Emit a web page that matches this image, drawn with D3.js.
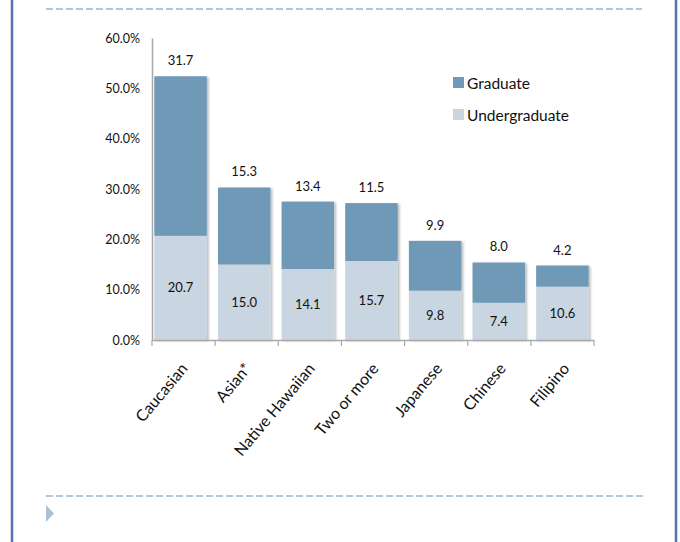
<!DOCTYPE html>
<html>
<head>
<meta charset="utf-8">
<script src="https://cdn.jsdelivr.net/npm/d3@7"></script>
<style>
  html, body { margin: 0; padding: 0; background: #fff; }
  svg { display: block; }
  text { font-family: Lato, "Open Sans", sans-serif; fill: #111; }
</style>
</head>
<body>
<svg id="chart" width="680" height="542"></svg>
<script>
// Enrollment share by ethnicity, split into undergraduate and graduate
const categories = ["Caucasian", "Asian*", "Native Hawaiian", "Two or more", "Japanese", "Chinese", "Filipino"];
const undergraduate = [20.7, 15.0, 14.1, 15.7, 9.8, 7.4, 10.6];
const graduate = [31.7, 15.3, 13.4, 11.5, 9.9, 8.0, 4.2];
const yTicks = [0, 10, 20, 30, 40, 50, 60];
const seriesNames = ["Graduate", "Undergraduate"];

const colors = { Graduate: "#7098b7", Undergraduate: "#c9d6e1" };

const svg = d3.select("#chart");
const W = 680, H = 542;

// slide frame: left and right rules, dashed separators, bullet arrow
svg.append("line").attr("x1", 12).attr("x2", 12).attr("y1", 0).attr("y2", H)
  .attr("stroke", "#4f76a8").attr("stroke-width", 2.5);
svg.append("line").attr("x1", 676).attr("x2", 676).attr("y1", 0).attr("y2", H)
  .attr("stroke", "#4f76a8").attr("stroke-width", 2.5);
svg.append("line").attr("x1", 46).attr("x2", 642).attr("y1", 9).attr("y2", 9)
  .attr("stroke", "#b3c7d9").attr("stroke-width", 2).attr("stroke-dasharray", "7,3");
svg.append("line").attr("x1", 46).attr("x2", 645).attr("y1", 496).attr("y2", 496)
  .attr("stroke", "#b3c7d9").attr("stroke-width", 2).attr("stroke-dasharray", "7,3");
svg.append("path").attr("d", "M46,505 L54,513.5 L46,522 Z").attr("fill", "#aac2d8");

// soft shadow on the bars
const defs = svg.append("defs");
const f = defs.append("filter").attr("id", "shadow").attr("x", "-10%").attr("y", "-10%")
  .attr("width", "130%").attr("height", "130%");
f.append("feDropShadow").attr("dx", 2).attr("dy", 1).attr("stdDeviation", 1)
  .attr("flood-color", "#000").attr("flood-opacity", 0.25);

const x = d3.scaleBand().domain(categories).range([152, 594])
  .paddingInner(0.175).paddingOuter(0.06).align(0.3);
const y = d3.scaleLinear().domain([0, 60]).range([340, 38]);

const rows = categories.map((c, i) => ({ cat: c, Undergraduate: undergraduate[i], Graduate: graduate[i] }));
const stacked = d3.stack().keys(["Undergraduate", "Graduate"])(rows);

// bars
const bars = svg.append("g").attr("filter", "url(#shadow)");
stacked.forEach(layer => {
  bars.selectAll(null).data(layer).enter().append("rect")
    .attr("x", d => x(d.data.cat))
    .attr("width", x.bandwidth())
    .attr("y", d => y(d[1]))
    .attr("height", d => y(d[0]) - y(d[1]))
    .attr("fill", colors[layer.key]);
});

// y axis
const yAxis = svg.append("g").attr("transform", "translate(152,0)")
  .call(d3.axisLeft(y).tickValues(yTicks).tickSize(0).tickPadding(12)
    .tickFormat(d => d3.format(".1f")(d) + "%"));
yAxis.select(".domain").attr("stroke", "#a8a8a8").attr("stroke-width", 1.5);
yAxis.selectAll("text").style("font-size", "12.5px").attr("fill", "#000")
  .style("font-family", "Lato, sans-serif");

// x axis with boundary ticks
const xAxis = svg.append("g").attr("transform", "translate(0,340)")
  .call(d3.axisBottom(x).tickSize(0).tickFormat(""));
xAxis.select(".domain").attr("stroke", "#a8a8a8").attr("stroke-width", 1.5);
const bounds = d3.range(categories.length + 1).map(i => 152 + i * (594 - 152) / categories.length);
svg.append("g").selectAll("line").data(bounds).enter().append("line")
  .attr("x1", d => d).attr("x2", d => d).attr("y1", 340).attr("y2", 346)
  .attr("stroke", "#a8a8a8").attr("stroke-width", 1.2);

// rotated category labels
svg.append("g").selectAll("text").data(categories).enter().append("text")
  .attr("transform", d => `translate(${x(d) + x.bandwidth() / 2 + 8},${369}) rotate(-50)`)
  .attr("text-anchor", "end")
  .style("font-size", "16px")
  .text(d => d);

// value labels: graduate above each bar, undergraduate inside its segment
svg.append("g").selectAll("text").data(rows).enter().append("text")
  .attr("x", d => x(d.cat) + x.bandwidth() / 2)
  .attr("y", d => y(d.Undergraduate + d.Graduate) - 11)
  .attr("text-anchor", "middle").style("font-size", "13px")
  .text(d => d3.format(".1f")(d.Graduate));
svg.append("g").selectAll("text").data(rows).enter().append("text")
  .attr("x", d => x(d.cat) + x.bandwidth() / 2)
  .attr("y", d => (y(0) + y(d.Undergraduate)) / 2)
  .attr("dy", "0.35em")
  .attr("text-anchor", "middle").style("font-size", "13px")
  .text(d => d3.format(".1f")(d.Undergraduate));

// legend
const legend = svg.append("g");
seriesNames.forEach((name, i) => {
  const ly = 77 + i * 32;
  legend.append("rect").attr("x", 453).attr("y", ly).attr("width", 11).attr("height", 11)
    .attr("fill", colors[name]);
  legend.append("text").attr("x", 467).attr("y", ly + 11.5).style("font-size", "15.5px").text(name);
});
</script>
</body>
</html>
